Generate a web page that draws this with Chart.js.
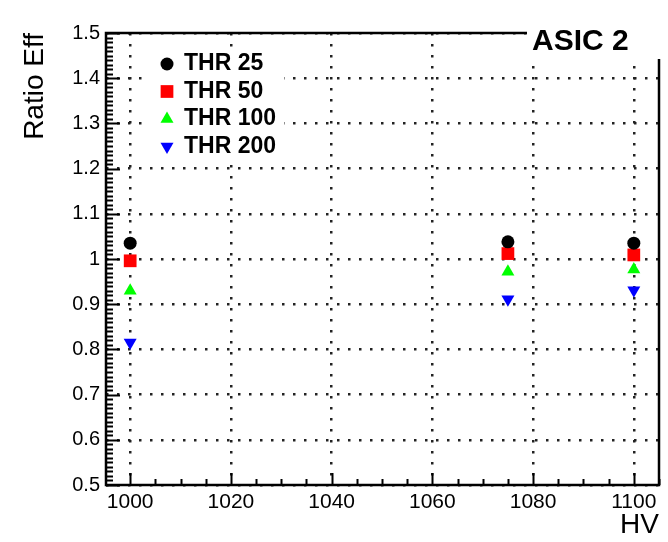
<!DOCTYPE html>
<html>
<head>
<meta charset="utf-8">
<script src="https://cdn.jsdelivr.net/npm/chart.js@4/dist/chart.umd.min.js"></script>
<style>
  html, body { margin: 0; padding: 0; background: #fff; }
  .chart { width: 668px; height: 542px; position: relative; }
</style>
</head>
<body>
<div class="chart"><canvas id="myChart"></canvas></div>
<script>
// values
const hv = [1000, 1075, 1100];
const thr25 = [1.035, 1.038, 1.035];
const thr50 = [0.996, 1.012, 1.009];
const thr100 = [0.93, 0.972, 0.977];
const thr200 = [0.815, 0.911, 0.931];

const seriesLabels = ['THR 25', 'THR 50', 'THR 100', 'THR 200'];
const xTicks = [1000, 1020, 1040, 1060, 1080, 1100];
const yTicks = [0.5, 0.6, 0.7, 0.8, 0.9, 1.0, 1.1, 1.2, 1.3, 1.4, 1.5];
const yTickLabels = ['0.5', '0.6', '0.7', '0.8', '0.9', '1', '1.1', '1.2', '1.3', '1.4', '1.5'];
const title = 'ASIC 2';

const FONT = '"Liberation Sans", Arial, Helvetica, sans-serif';

function points(ys) {
    return hv.map((x, i) => ({ x: x, y: ys[i] }));
}

const data = {
    datasets: [
        { label: seriesLabels[0], data: points(thr25), pointStyle: 'circle', radius: 6.5, backgroundColor: '#000', borderColor: '#000' },
        { label: seriesLabels[1], data: points(thr50), pointStyle: 'rect', radius: 9, backgroundColor: '#ff0000', borderColor: '#ff0000' },
        { label: seriesLabels[2], data: points(thr100), pointStyle: 'triangle', radius: 7.5, backgroundColor: '#00ff00', borderColor: '#00ff00' },
        { label: seriesLabels[3], data: points(thr200), pointStyle: 'triangle', rotation: 180, radius: 7.5, backgroundColor: '#0000ff', borderColor: '#0000ff' }
    ]
};
data.datasets.forEach(d => { d.borderWidth = 0; d.pointHoverRadius = d.radius; });

// frame, inward ticks, legend box, title box (ROOT look)
const rootStyle = {
    id: 'rootStyle',
    beforeDraw(chart) {
        const ctx = chart.ctx;
        ctx.save();
        ctx.fillStyle = '#fff';
        ctx.fillRect(0, 0, chart.width, chart.height);
        ctx.restore();
    },
    beforeDatasetsDraw(chart) {
        const ctx = chart.ctx;
        const a = chart.chartArea;
        const xs = chart.scales.x;
        const ys = chart.scales.y;
        ctx.save();

        // legend
        ctx.fillStyle = '#fff';
        ctx.fillRect(150, 48, 134, 114);
        chart.data.datasets.forEach((d, i) => {
            const cy = 64 + i * 27.5;
            ctx.fillStyle = d.backgroundColor;
            Chart.helpers.drawPoint(ctx, { pointStyle: d.pointStyle, radius: d.radius, rotation: d.rotation || 0, borderWidth: 0 }, 167, cy);
            ctx.fillStyle = '#000';
            ctx.font = 'bold 23px ' + FONT;
            ctx.textBaseline = 'middle';
            ctx.textAlign = 'left';
            ctx.fillText(d.label, 184, cy);
        });

        // frame
        ctx.strokeStyle = '#000';
        ctx.lineWidth = 2.5;
        ctx.strokeRect(a.left, a.top, a.right - a.left, a.bottom - a.top);

        // left axis ticks
        ctx.beginPath();
        for (let i = 0; i <= 100; i++) {
            const v = ys.min + i * 0.01;
            if (v > ys.max + 1e-9) break;
            const y = Math.round(ys.getPixelForValue(v)) + 0.5;
            const len = i % 10 === 0 ? 14 : 7;
            ctx.moveTo(a.left, y);
            ctx.lineTo(a.left + len, y);
        }
        // bottom axis ticks
        for (let v = Math.ceil(xs.min / 5) * 5; v <= xs.max; v += 5) {
            const x = Math.round(xs.getPixelForValue(v)) + 0.5;
            const len = v % 20 === 0 ? 12 : 6;
            ctx.moveTo(x, a.bottom);
            ctx.lineTo(x, a.bottom - len);
        }
        ctx.lineWidth = 2;
        ctx.stroke();
        ctx.restore();
    },
    afterDraw(chart) {
        const ctx = chart.ctx;
        ctx.save();
        ctx.fillStyle = '#fff';
        ctx.fillRect(527, 0, chart.width - 527, 59);
        ctx.fillStyle = '#000';
        ctx.font = 'bold 30px ' + FONT;
        ctx.textBaseline = 'alphabetic';
        ctx.textAlign = 'left';
        ctx.fillText(title, 532, 50);
        ctx.restore();
    }
};

const config = {
    type: 'scatter',
    data: data,
    options: {
        responsive: true,
        maintainAspectRatio: false,
        animation: false,
        events: [],
        layout: { padding: { left: 0, top: 33, right: 9, bottom: 0 } },
        plugins: { legend: { display: false }, tooltip: { enabled: false } },
        scales: {
            x: {
                type: 'linear',
                min: 995.2,
                max: 1105,
                afterFit: s => { s.height = 57; },
                afterBuildTicks: s => { s.ticks = xTicks.map(v => ({ value: v })); },
                grid: { color: '#222', lineWidth: 2.5, drawTicks: false },
                border: { display: false, dash: [2.5, 8.5] },
                ticks: { color: '#000', padding: 5, maxRotation: 0, autoSkip: false, font: { family: FONT, size: 21 }, callback: v => String(v) },
                title: { display: true, text: 'HV', align: 'end', color: '#000', padding: 0, font: { family: FONT, size: 28 } }
            },
            y: {
                type: 'linear',
                min: 0.5,
                max: 1.5,
                afterFit: s => { s.width = 106; },
                afterBuildTicks: s => { s.ticks = yTicks.map(v => ({ value: v })); },
                grid: { color: '#222', lineWidth: 2.5, drawTicks: false },
                border: { display: false, dash: [2.5, 8.5] },
                ticks: { color: '#000', padding: 6, autoSkip: false, font: { family: FONT, size: 20 }, callback: (v, i) => yTickLabels[i] },
                title: { display: true, text: 'Ratio Eff', align: 'end', color: '#000', padding: { top: 18, bottom: 0 }, font: { family: FONT, size: 28 } }
            }
        }
    },
    plugins: [rootStyle]
};

const myChart = new Chart(document.getElementById('myChart'), config);
</script>
</body>
</html>
